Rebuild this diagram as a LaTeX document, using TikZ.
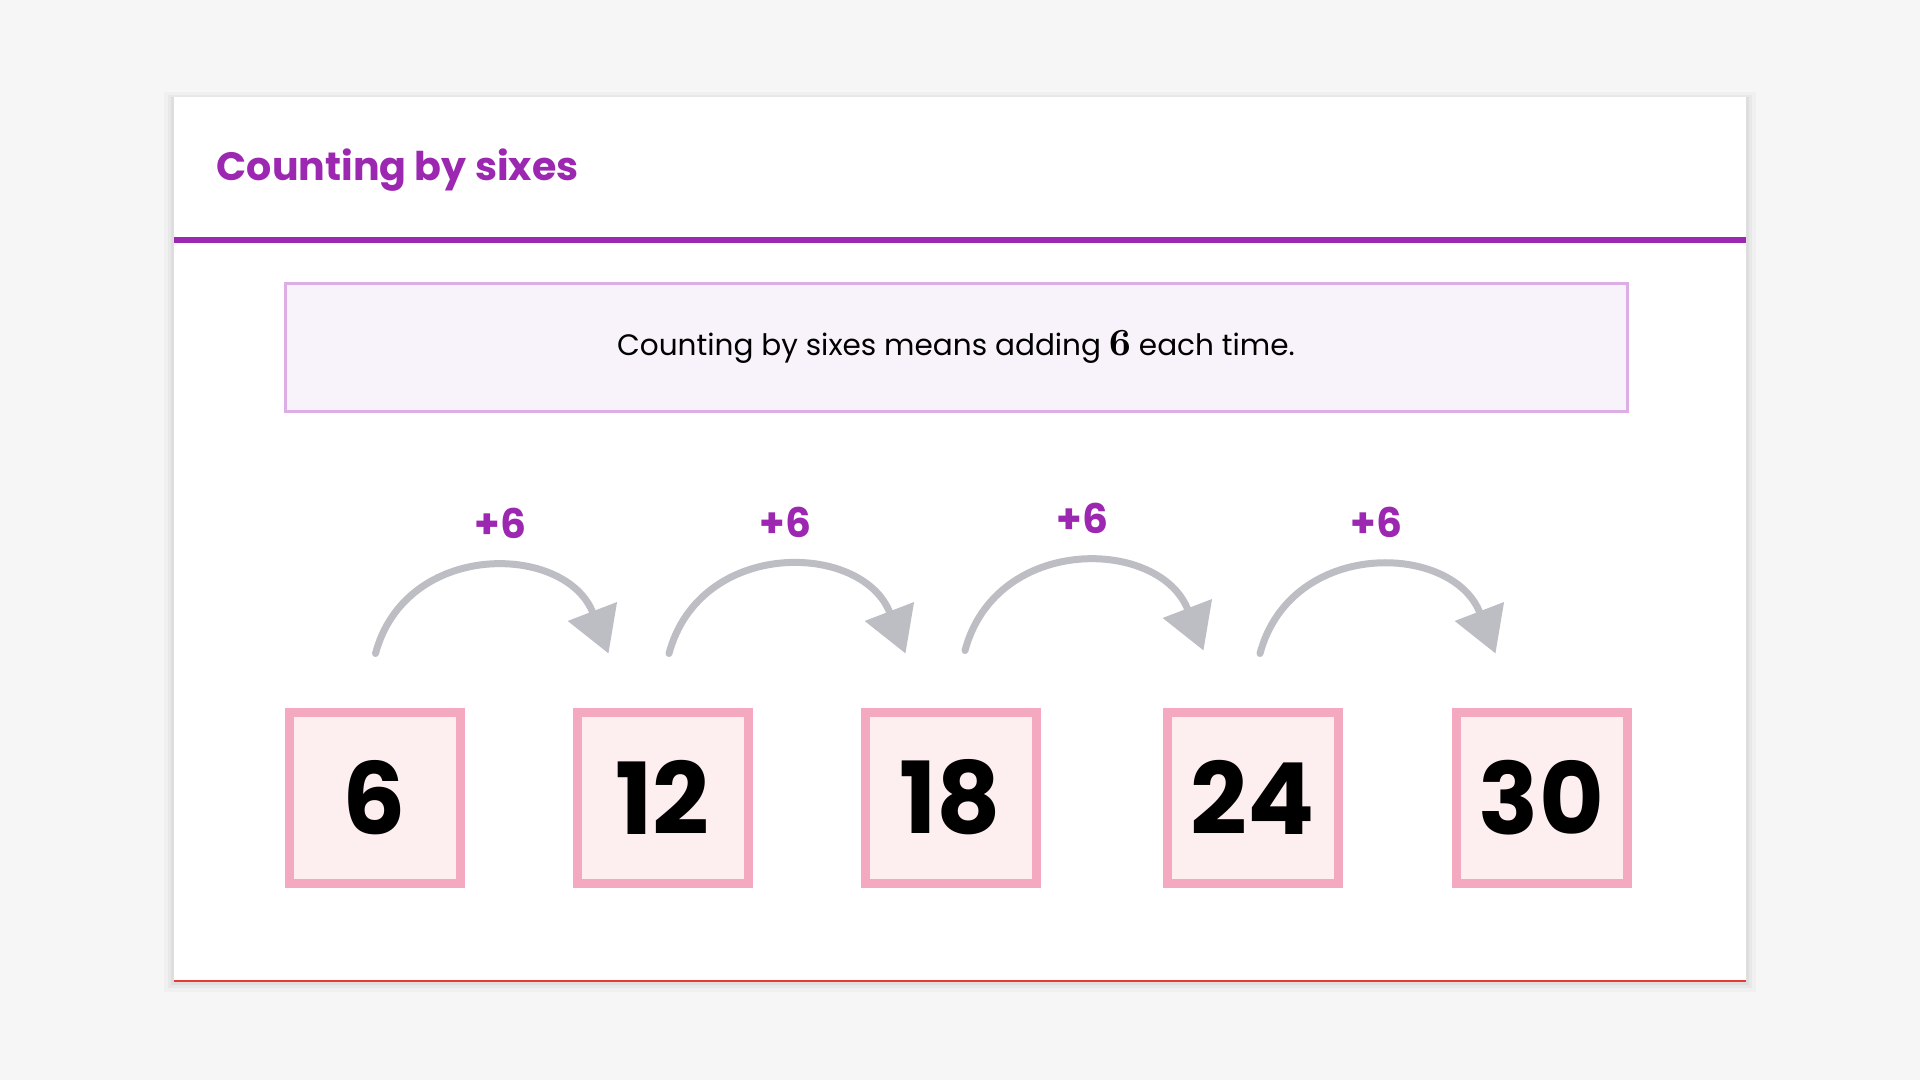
\documentclass[tikz,border=0pt]{standalone}
\usepackage[no-math]{fontspec}
\setmainfont{Poppins}
\usepackage{amsmath}
\usepackage{tikz}
\usetikzlibrary{positioning,calc,arrows.meta}
\definecolor{pagebg}{HTML}{F6F6F6}
\definecolor{headpurple}{HTML}{9C27B0}
\definecolor{notefill}{HTML}{F8F3FA}
\definecolor{noteline}{HTML}{DDAEE5}
\definecolor{boxpink}{HTML}{F4A9C0}
\definecolor{boxfill}{HTML}{FDEEF0}
\definecolor{arrowgray}{HTML}{BDBEC4}
\definecolor{edgered}{HTML}{E53935}

\begin{document}
\begin{tikzpicture}[x=0.1mm,y=0.1mm,numbox/.style={draw=boxpink,fill=boxfill,line width=0.9mm,minimum size=17.1mm,inner sep=0,font=\fontsize{28.3}{30}\selectfont\bfseries}]
            \tikzstyle{jump}=[draw=arrowgray,line width=0.7mm,line cap=round,-{Triangle[length=4.5mm,width=5.1mm]}]
            \tikzstyle{plus}=[text=headpurple,inner sep=0,font=\fontsize{11.6}{12}\selectfont\bfseries]
            \tikzstyle{note}=[draw=noteline,fill=notefill,line width=0.3mm,minimum width=134.2mm,minimum height=12.8mm,font=\fontsize{8.4}{10}\selectfont]
            \useasboundingbox (0,0) rectangle (1920,1080);
            \fill[pagebg] (0,0) rectangle (1920,1080);
            % card with soft shadow
            \fill[black,opacity=0.025] (164,88) rectangle (1756,988);
            \fill[black,opacity=0.03] (168,92) rectangle (1752,985);
            \fill[black,opacity=0.04] (171,95) rectangle (1749,983);
            \fill[white] (174,99) rectangle (1746,983);
            \draw[edgered,line width=0.15mm] (174,99) -- (1746,99);
            % header
            \node(title)[anchor=base west,inner sep=0,text=headpurple,font=\fontsize{11.25}{13}\selectfont\bfseries] at (216,900) {Counting by sixes};
            \draw[headpurple,line width=0.6mm] (174,840) -- (1746,840);
            \node(info)[note] at (956,733) {Counting by sixes means adding {\fontsize{10.6}{10}\selectfont$\mathbf{6}$} each time.};
            % number boxes
            \node(n6)[numbox] at (374.5,282.5) {6};
            \node(n12)[numbox,right=10.8mm of n6] {12};
            \node(n18)[numbox,right=10.8mm of n12] {18};
            \node(n24)[numbox,right=12.2mm of n18] {24};
            \node(n30)[numbox,right=10.9mm of n24] {30};
            % jumps
            \draw[jump] ($(n6.north)+(1,54)$) to[out=75,in=111,looseness=1.3] node[plus,midway,above=2.7mm,xshift=1.3mm]{+6} ($(n12.north west)+(36,54)$);
            \draw[jump] ($(n12.north)+(6.5,54)$) to[out=75,in=111,looseness=1.3] node[plus,midway,above=2.7mm,xshift=0.3mm]{+6} ($(n18.north west)+(45,54)$);
            \draw[jump] ($(n18.north)+(14.5,57)$) to[out=75,in=111,looseness=1.3] node[plus,midway,above=2.7mm,xshift=0.3mm]{+6} ($(n24.north west)+(41,57)$);
            \draw[jump] ($(n24.north)+(7.5,54)$) to[out=75,in=111,looseness=1.3] node[plus,midway,above=2.7mm,xshift=0.3mm]{+6} ($(n30.north west)+(44,54)$);
          \end{tikzpicture}
\end{document}
